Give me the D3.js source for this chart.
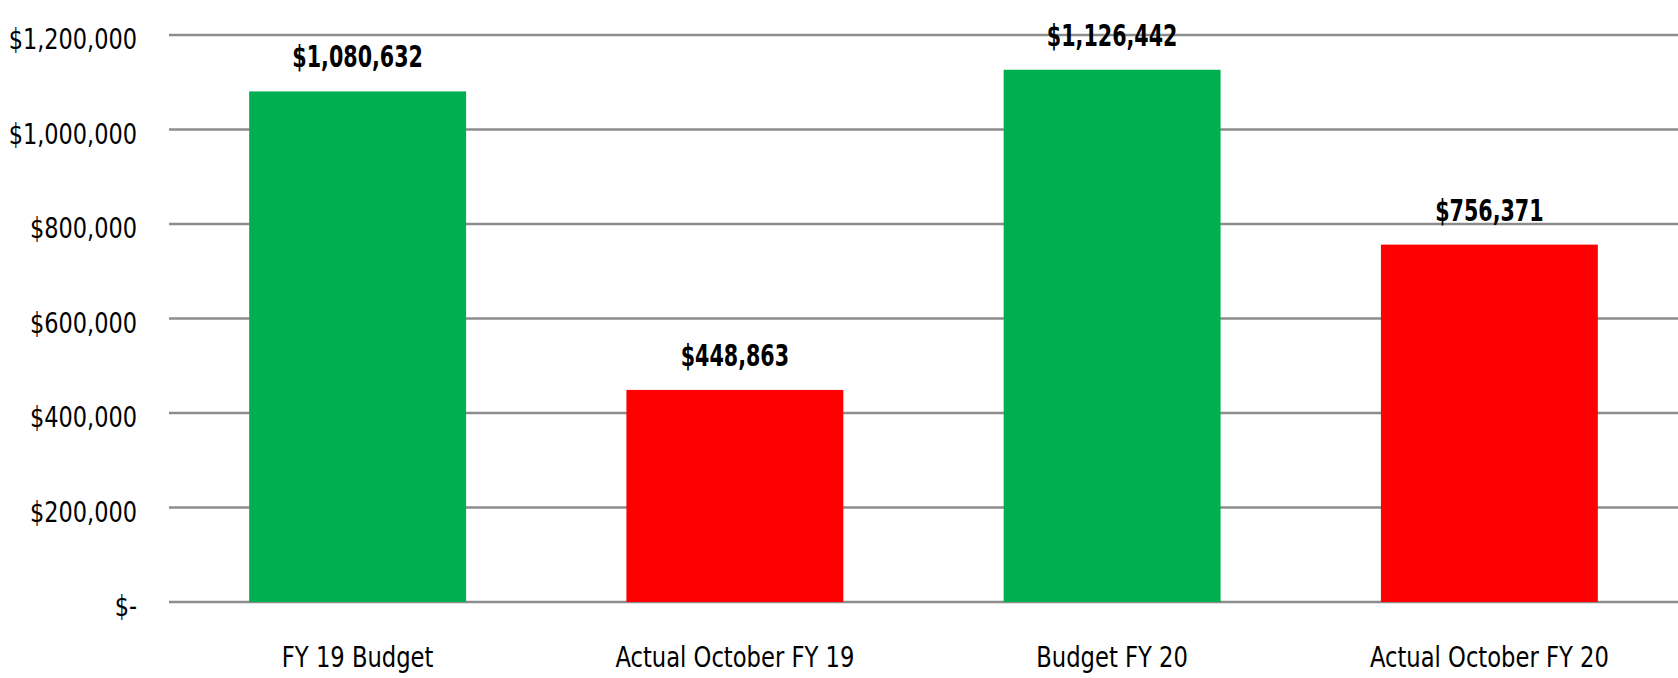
<!DOCTYPE html>
<html lang="en">
<head>
  <meta charset="UTF-8">
  <title>Budget vs Actual</title>
  <style type="text/css">
    body { margin: 0px; background: #fff; }
    text { font-family: "Liberation Sans Narrow", "DejaVu Sans Condensed", sans-serif; fill: #000; }
    .tick-label { font-size: 28px; }
    .cat-label { font-size: 28px; }
    .value-label { font-size: 30px; font-weight: bold; }
  </style>
  <script src="https://d3js.org/d3.v7.min.js"></script>
</head>
<body>
  <svg width="1678" height="678"></svg>
  <script>
    const categories = ['FY 19 Budget', 'Actual October FY 19', 'Budget FY 20', 'Actual October FY 20'];
    const values = [1080632, 448863, 1126442, 756371];
    const barColors = ['#00b050', '#ff0000', '#00b050', '#ff0000'];
    const yTicks = [0, 200000, 400000, 600000, 800000, 1000000, 1200000];

    const svg = d3.select('svg');
    const margin = { left: 169, right: 0, top: 35, bottom: 76 };
    const width = +svg.attr('width');
    const height = +svg.attr('height');

    const x = d3.scaleBand()
      .domain(categories)
      .range([margin.left, width - margin.right])
      .paddingInner(0.425)
      .paddingOuter(0.2125);

    const y = d3.scaleLinear()
      .domain([0, 1200000])
      .range([height - margin.bottom, margin.top]);

    const money = d3.format(',');
    const tickFmt = d => d === 0 ? '$-' : '$' + money(d);
    // squeeze text a bit so it looks like a narrow font
    const squeeze = (px, py, k) => `translate(${px},${py}) scale(${k},1)`;

    // gridlines
    svg.append('g').selectAll('line').data(yTicks)
      .enter().append('line')
        .attr('x1', margin.left)
        .attr('x2', width - margin.right)
        .attr('y1', d => y(d))
        .attr('y2', d => y(d))
        .attr('stroke', '#8c8c8c')
        .attr('stroke-width', 2.5);

    svg.append('g').selectAll('text').data(yTicks)
      .enter().append('text')
        .attr('class', 'tick-label')
        .attr('transform', d => squeeze(137, y(d) + 14, 0.89))
        .attr('text-anchor', 'end')
        .text(tickFmt);

    const data = categories.map((c, i) => ({ cat: c, value: values[i], color: barColors[i] }));

    svg.append('g').selectAll('rect').data(data)
      .enter().append('rect')
        .attr('x', d => x(d.cat))
        .attr('width', x.bandwidth())
        .attr('y', d => y(d.value))
        .attr('height', d => y(0) - y(d.value))
        .attr('fill', d => d.color);

    svg.append('g').selectAll('text').data(data)
      .enter().append('text')
        .attr('class', 'value-label')
        .attr('transform', d => squeeze(x(d.cat) + x.bandwidth() / 2, y(d.value) - 24, 0.765))
        .attr('text-anchor', 'middle')
        .text(d => '$' + money(d.value));

    svg.append('g').selectAll('text').data(data)
      .enter().append('text')
        .attr('class', 'cat-label')
        .attr('transform', d => squeeze(x(d.cat) + x.bandwidth() / 2, 667, 0.9))
        .attr('text-anchor', 'middle')
        .text(d => d.cat);
  </script>
</body>
</html>
